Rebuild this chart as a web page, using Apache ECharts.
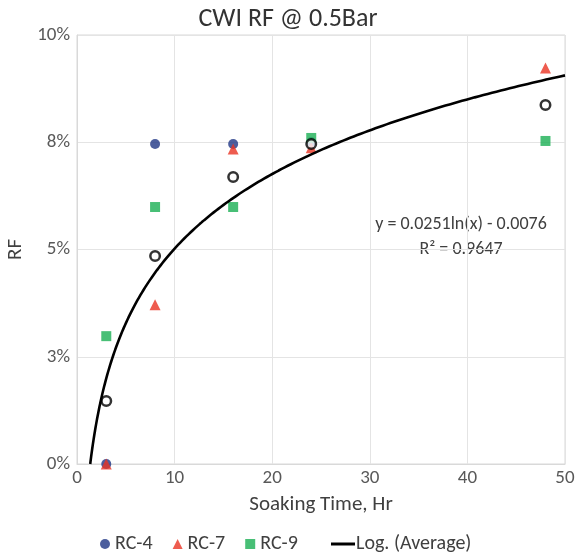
<!DOCTYPE html>
<html>
<head>
<meta charset="utf-8">
<script src="https://cdn.jsdelivr.net/npm/echarts@6/dist/echarts.min.js"></script>
<style>
  html, body { margin: 0; padding: 0; background: #fff; }
  #chart { width: 583px; height: 557px; }
</style>
</head>
<body>
<div id="chart"></div>
<script>
// Soaking time (hours) and recovery factor (fraction) per core sample
const rc4Hours = [3, 8, 16, 24];
const rc4Rf = [0.0, 0.0746, 0.0746, 0.075];
const rc7Hours = [3, 8, 16, 24, 48];
const rc7Rf = [0.0, 0.0371, 0.0734, 0.0737, 0.0923];
const rc9Hours = [3, 8, 16, 24, 48];
const rc9Rf = [0.0298, 0.0599, 0.0599, 0.076, 0.0753];
const avgHours = [3, 8, 16, 24, 48];
const avgRf = [0.0147, 0.0485, 0.0669, 0.0746, 0.0837];

// Logarithmic trend of the average: y = a ln(x) + b
const trendA = 0.0251;
const trendB = -0.0076;
const trendEnd = 50;

const yTicks = [0, 0.025, 0.05, 0.075, 0.1];

function pairs(xs, ys) { return xs.map((x, i) => [x, ys[i]]); }

const trendStart = Math.exp(-trendB / trendA);
const trendData = [];
for (let i = 0; i <= 200; i++) {
  const x = trendStart + (trendEnd - trendStart) * Math.pow(i / 200, 2);
  trendData.push([x, trendA * Math.log(x) + trendB]);
}

const axisText = '#595959';
const darkText = '#404040';
const gridLine = '#e4e4e4';
const font = 'Calibri, Carlito, "Open Sans", "Noto Sans", sans-serif';

const chart = echarts.init(document.getElementById('chart'));
chart.setOption({
  animation: false,
  backgroundColor: '#ffffff',
  textStyle: { fontFamily: font },
  title: {
    text: 'CWI RF @ 0.5Bar',
    left: 283, top: 1, textAlign: 'center',
    textStyle: { fontSize: 26, fontWeight: 'normal', color: '#333333', fontFamily: font }
  },
  grid: {
    left: 77, right: 18, top: 35, bottom: 93,
    containLabel: false, outerBoundsMode: 'none',
    show: true, borderColor: '#d9d9d9', borderWidth: 1
  },
  xAxis: {
    type: 'value', min: 0, max: 50, interval: 10,
    name: 'Soaking Time, Hr', nameLocation: 'middle', nameGap: 30,
    nameTextStyle: { fontSize: 21, color: darkText, fontFamily: font },
    axisLine: { show: true, lineStyle: { color: '#d9d9d9' } },
    axisTick: { show: false },
    axisLabel: { fontSize: 19, color: axisText, margin: 5, fontFamily: font },
    splitLine: { show: true, lineStyle: { color: gridLine } }
  },
  yAxis: {
    type: 'value', min: yTicks[0], max: yTicks[yTicks.length - 1], interval: 0.025,
    name: 'RF', nameLocation: 'middle', nameGap: 49, nameRotate: 90,
    nameTextStyle: { fontSize: 21, color: darkText, fontFamily: font },
    axisLine: { show: true, lineStyle: { color: '#d9d9d9' } },
    axisTick: { show: false },
    axisLabel: {
      fontSize: 19, color: axisText, margin: 7, fontFamily: font,
      formatter: v => Math.round(Math.round(v * 1000) / 10 + 1e-9) + '%'
    },
    splitLine: { show: true, lineStyle: { color: gridLine } }
  },
  legend: [
    {
      data: [
        { name: 'RC-4', icon: 'circle' },
        { name: 'RC-7', icon: 'triangle' },
        { name: 'RC-9', icon: 'rect' }
      ],
      left: 95, top: 529, itemWidth: 10, itemHeight: 10, itemGap: 20,
      textStyle: { fontSize: 20, color: darkText, fontFamily: font }
    },
    {
      data: [{ name: 'Log. (Average)', icon: 'path://M0,0H24V3H0Z' }],
      left: 326, top: 529, itemWidth: 24, itemHeight: 3, itemGap: 0,
      textStyle: { fontSize: 20, color: darkText, fontFamily: font, padding: [0, 0, 0, -4] }
    }
  ],
  graphic: [
    {
      type: 'text', x: 461, y: 224,
      style: {
        text: 'y = 0.0251ln(x) - 0.0076', fontSize: 18, fill: darkText, fontFamily: font,
        align: 'center', verticalAlign: 'middle'
      }
    },
    {
      type: 'text', x: 461, y: 249,
      style: {
        text: 'R² = 0.9647', fontSize: 18, fill: darkText, fontFamily: font,
        align: 'center', verticalAlign: 'middle'
      }
    }
  ],
  series: [
    {
      name: 'RC-4', type: 'scatter', data: pairs(rc4Hours, rc4Rf),
      symbol: 'circle', symbolSize: 10, itemStyle: { color: '#1f3685' }, z: 2
    },
    {
      name: 'RC-7', type: 'scatter', data: pairs(rc7Hours, rc7Rf),
      symbol: 'triangle', symbolSize: 11, itemStyle: { color: '#ea3323' }, z: 3
    },
    {
      name: 'RC-9', type: 'scatter', data: pairs(rc9Hours, rc9Rf),
      symbol: 'rect', symbolSize: 10, itemStyle: { color: '#1aaf54' }, z: 4
    },
    {
      name: 'Average', type: 'scatter', data: pairs(avgHours, avgRf),
      symbol: 'circle', symbolSize: 9.5,
      itemStyle: { color: '#ffffff', borderColor: '#000000', borderWidth: 2.5 }, z: 5
    },
    {
      name: 'Log. (Average)', type: 'line', data: trendData,
      showSymbol: false, symbol: 'none', smooth: false, clip: true,
      lineStyle: { color: '#000000', width: 2.6 }, itemStyle: { color: '#000000' }, z: 6
    }
  ]
});
</script>
</body>
</html>
